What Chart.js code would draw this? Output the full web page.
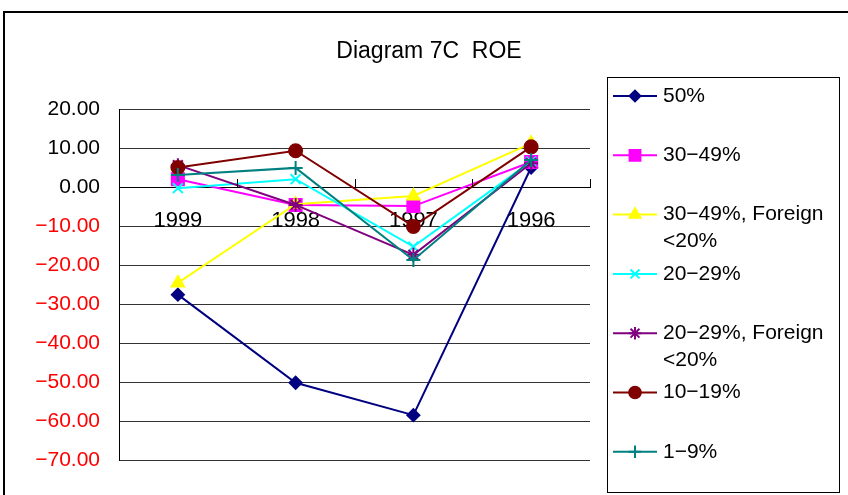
<!DOCTYPE html>
<html>
<head>
<meta charset="utf-8">
<script src="https://cdn.jsdelivr.net/npm/chart.js@4/dist/chart.umd.min.js"></script>
<style>
  body { margin: 0; background: #fff; }
  #wrap { width: 848px; height: 495px; position: relative; }
</style>
</head>
<body>
<div id="wrap"><canvas id="roeChart"></canvas></div>
<script>
// Diagram 7C ROE

const titleText = 'Diagram 7C  ROE';
const years = ['1999', '1998', '1997', '1996'];
const seriesNames = ['50%', '30\u221249%', '30\u221249%, Foreign <20%', '20\u221229%', '20\u221229%, Foreign <20%', '10\u221219%', '1\u22129%'];

const roe50 = [-27.6, -50.2, -58.5, 5.0];
const roe3049 = [2.0, -4.6, -4.9, 6.4];
const roe3049Foreign = [-24.6, -4.4, -2.3, 11.2];
const roe2029 = [-0.3, 2.0, -15.3, 6.5];
const roe2029Foreign = [5.6, -4.6, -17.4, 6.1];
const roe1019 = [5.0, 9.3, -10.1, 10.3];
const roe19 = [3.1, 4.9, -18.7, 6.9];

const yMin = -70;
const yMax = 20;
const yStep = 10;

const FONT = '"Liberation Sans", Arial, sans-serif';

const styles = [
    { color: '#000080', point: 'rectRot', radius: 6 },
    { color: '#FF00FF', point: 'rect', radius: 8.5 },
    { color: '#FFFF00', point: 'triangle', radius: 7 },
    { color: '#00FFFF', point: 'crossRot', radius: 7 },
    { color: '#800080', point: 'star', radius: 7 },
    { color: '#800000', point: 'circle', radius: 6.5 },
    { color: '#008080', point: 'cross', radius: 7 }
];

const allValues = [roe50, roe3049, roe3049Foreign, roe2029, roe2029Foreign, roe1019, roe19];

const datasets = allValues.map((vals, i) => ({
    label: seriesNames[i],
    data: vals,
    borderColor: styles[i].color,
    backgroundColor: styles[i].color,
    pointBackgroundColor: styles[i].color,
    pointBorderColor: styles[i].color,
    pointStyle: styles[i].point,
    pointRadius: styles[i].radius,
    pointBorderWidth: 2,
    borderWidth: 2,
    tension: 0,
    fill: false,
    order: allValues.length - i // later series on top
}));

// title, legend box, frame and the little upward ticks on the zero axis
const decorPlugin = {
    id: 'decor',
    afterDraw(chart) {
        const ctx = chart.ctx;
        const xs = chart.scales.x;
        const ys = chart.scales.y;
        ctx.save();

        // outer frame (left + top only visible)
        ctx.strokeStyle = '#000';
        ctx.lineWidth = 2;
        ctx.beginPath();
        ctx.moveTo(4, 500);
        ctx.lineTo(4, 12);
        ctx.lineTo(860, 12);
        ctx.stroke();

        // title
        ctx.fillStyle = '#000';
        ctx.font = '23px ' + FONT;
        ctx.textAlign = 'center';
        ctx.textBaseline = 'middle';
        ctx.fillText(titleText, 429, 52);

        // ticks on category axis
        const y0 = ys.getPixelForValue(0);
        ctx.lineWidth = 1;
        ctx.strokeStyle = '#000';
        for (let i = 1; i <= years.length; i++) {
            const x = Math.round(xs.getPixelForDecimal(i / years.length)) + 0.5;
            ctx.beginPath();
            ctx.moveTo(x, y0);
            ctx.lineTo(x, y0 - 8);
            ctx.stroke();
        }

        // legend
        ctx.strokeStyle = '#000';
        ctx.lineWidth = 1;
        ctx.strokeRect(607.5, 77.5, 232, 415);
        ctx.font = '21px ' + FONT;
        ctx.textAlign = 'left';
        ctx.textBaseline = 'middle';
        const maxW = 839 - 663 - 2;
        chart.data.datasets.forEach((ds, i) => {
            const y = 96 + i * 59.3;
            ctx.strokeStyle = ds.borderColor;
            ctx.lineWidth = 2;
            ctx.beginPath();
            ctx.moveTo(613, y);
            ctx.lineTo(657, y);
            ctx.stroke();
            ctx.fillStyle = ds.pointBackgroundColor;
            ctx.strokeStyle = ds.pointBorderColor;
            Chart.helpers.drawPoint(ctx, {
                pointStyle: ds.pointStyle,
                radius: ds.pointRadius * 0.9,
                rotation: 0,
                borderWidth: 2
            }, 635, y);
            // wrap label
            const words = ds.label.split(' ');
            const lines = [];
            let cur = '';
            words.forEach(w => {
                const test = cur ? cur + ' ' + w : w;
                if (cur && ctx.measureText(test).width > maxW) {
                    lines.push(cur);
                    cur = w;
                } else {
                    cur = test;
                }
            });
            lines.push(cur);
            ctx.fillStyle = '#000';
            lines.forEach((ln, k) => ctx.fillText(ln, 663, y + k * 27));
        });
        ctx.restore();
    }
};

const ctx = document.getElementById('roeChart').getContext('2d');

new Chart(ctx, {
    type: 'line',
    data: { labels: years, datasets: datasets },
    options: {
        responsive: true,
        maintainAspectRatio: false,
        animation: false,
        devicePixelRatio: 1,
        layout: { padding: { left: 4, right: 258, top: 109, bottom: 35 } },
        plugins: {
            legend: { display: false },
            title: { display: false },
            tooltip: { enabled: false }
        },
        scales: {
            x: {
                position: { y: 0 },
                offset: true,
                grid: { display: false, drawTicks: false },
                border: { display: true, color: '#000', width: 1 },
                ticks: {
                    color: '#000',
                    font: { family: FONT, size: 22 },
                    padding: 21,
                    maxRotation: 0
                }
            },
            y: {
                min: yMin,
                max: yMax,
                afterFit: scale => { scale.width = 115; },
                grid: { color: '#333', drawTicks: false, lineWidth: 1 },
                border: { display: true, color: '#000', width: 1 },
                ticks: {
                    stepSize: yStep,
                    padding: 19,
                    font: { family: FONT, size: 21 },
                    color: c => c.tick.value < 0 ? '#FF0000' : '#000',
                    callback: v => (v < 0 ? '\u2212' : '') + Math.abs(v).toFixed(2)
                }
            }
        }
    },
    plugins: [decorPlugin]
});
</script>
</body>
</html>
